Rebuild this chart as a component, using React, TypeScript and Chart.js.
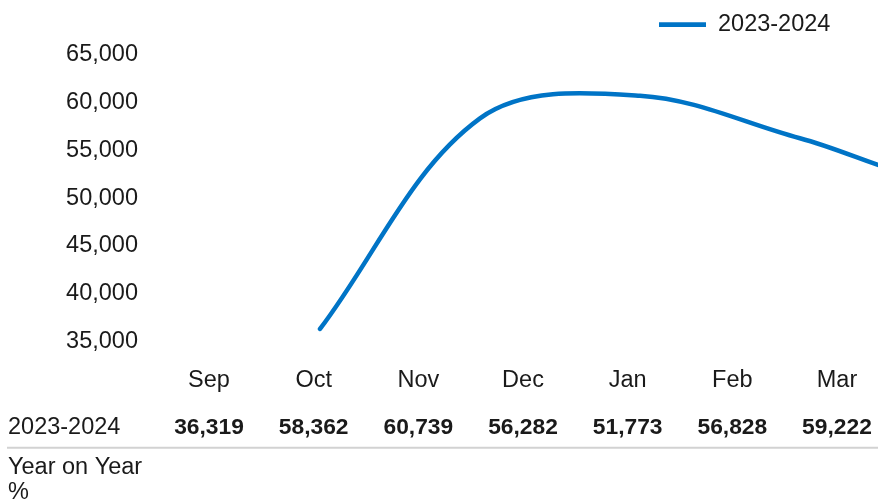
import React, { useEffect, useRef } from 'react';
import { Chart, registerables } from 'chart.js';

Chart.register(...registerables);

// ---- data ----
const months = ['Sep', 'Oct', 'Nov', 'Dec', 'Jan', 'Feb', 'Mar'];
const seriesName = '2023-2024';
const values = [36319, 58362, 60739, 56282, 51773, 56828, 59222];
const yTicks = [35000, 40000, 45000, 50000, 55000, 60000, 65000];
const secondRowLabel = ['Year on Year', '%'];

// ---- style ----
const FONT = '"Liberation Sans", Arial, Helvetica, sans-serif';
const BLUE = '#0074C6';
const TEXT = '#1a1a1a';
const W = 878;
const H = 504;
const FS = 23.5;

const overlayPlugin = {
  id: 'overlay',
  afterDraw(chart: any) {
    const ctx = chart.ctx as CanvasRenderingContext2D;
    const xs = chart.scales.x;
    ctx.save();
    // legend
    ctx.strokeStyle = BLUE;
    ctx.lineWidth = 4.7;
    ctx.beginPath();
    ctx.moveTo(659, 24.7);
    ctx.lineTo(706, 24.7);
    ctx.stroke();
    ctx.fillStyle = TEXT;
    ctx.font = `${FS}px ${FONT}`;
    ctx.textAlign = 'left';
    ctx.textBaseline = 'middle';
    ctx.fillText(chart.data.datasets[0].label, 718, 25);

    // table row
    ctx.fillText(seriesName, 8, 428);
    ctx.font = `bold 22.8px ${FONT}`;
    ctx.textAlign = 'center';
    values.forEach((v, i) => {
      ctx.fillText(v.toLocaleString('en-US'), xs.getPixelForValue(i), 428);
    });
    // separator
    ctx.strokeStyle = '#d2d2d2';
    ctx.lineWidth = 2;
    ctx.beginPath();
    ctx.moveTo(7, 447.7);
    ctx.lineTo(W, 447.7);
    ctx.stroke();
    // second row label
    ctx.font = `${FS}px ${FONT}`;
    ctx.textAlign = 'left';
    secondRowLabel.forEach((t, i) => ctx.fillText(t, 8, 467.5 + i * 25));
    ctx.restore();
  },
};

export default function App() {
  const ref = useRef<HTMLCanvasElement>(null);
  useEffect(() => {
    document.body.style.margin = '0';
    const chart = new Chart(ref.current!, {
      type: 'line',
      data: {
        datasets: [
          {
            label: seriesName,
            data: values.map((v, i) => ({ x: i, y: v })),
            xAxisID: 'x2',
            yAxisID: 'y',
            borderColor: BLUE,
            backgroundColor: BLUE,
            borderWidth: 4.5,
            borderCapStyle: 'round',
            pointRadius: 0,
            tension: 0.35,
            fill: false,
          },
        ],
      },
      options: {
        animation: false,
        responsive: true,
        maintainAspectRatio: false,
        layout: { padding: { top: 55, left: 0, right: 0, bottom: 0 } },
        plugins: { legend: { display: false }, tooltip: { enabled: false } },
        scales: {
          x: {
            type: 'linear',
            position: 'bottom',
            min: -0.65,
            max: 6.392,
            afterBuildTicks: (s: any) => {
              s.ticks = months.map((_, i) => ({ value: i }));
            },
            afterFit: (s: any) => {
              s.height = H - 341.5;
            },
            ticks: {
              callback: (v: any) => months[v] ?? '',
              font: { family: FONT, size: FS },
              color: TEXT,
              padding: 4,
              maxRotation: 0,
              autoSkip: false,
            },
            grid: {
              display: true,
              drawOnChartArea: false,
              drawTicks: true,
              tickLength: 20.5,
              color: 'rgba(0,0,0,0)',
            },
            border: { display: false },
          },
          x2: { type: 'linear', display: false, min: -1.119, max: 3.488 },
          y: {
            type: 'linear',
            min: 35000,
            max: 65000,
            afterBuildTicks: (s: any) => {
              s.ticks = yTicks.map((v) => ({ value: v }));
            },
            afterFit: (s: any) => {
              s.width = 141;
            },
            ticks: {
              callback: (v: any) => Number(v).toLocaleString('en-US'),
              font: { family: FONT, size: FS },
              color: TEXT,
              padding: 3,
            },
            grid: { display: false, drawTicks: false },
            border: { display: false },
          },
        },
      },
      plugins: [overlayPlugin],
    });
    return () => chart.destroy();
  }, []);
  return (
    <div style={{ position: 'absolute', left: 0, top: 0, width: W, height: H }}>
      <canvas ref={ref} />
    </div>
  );
}
